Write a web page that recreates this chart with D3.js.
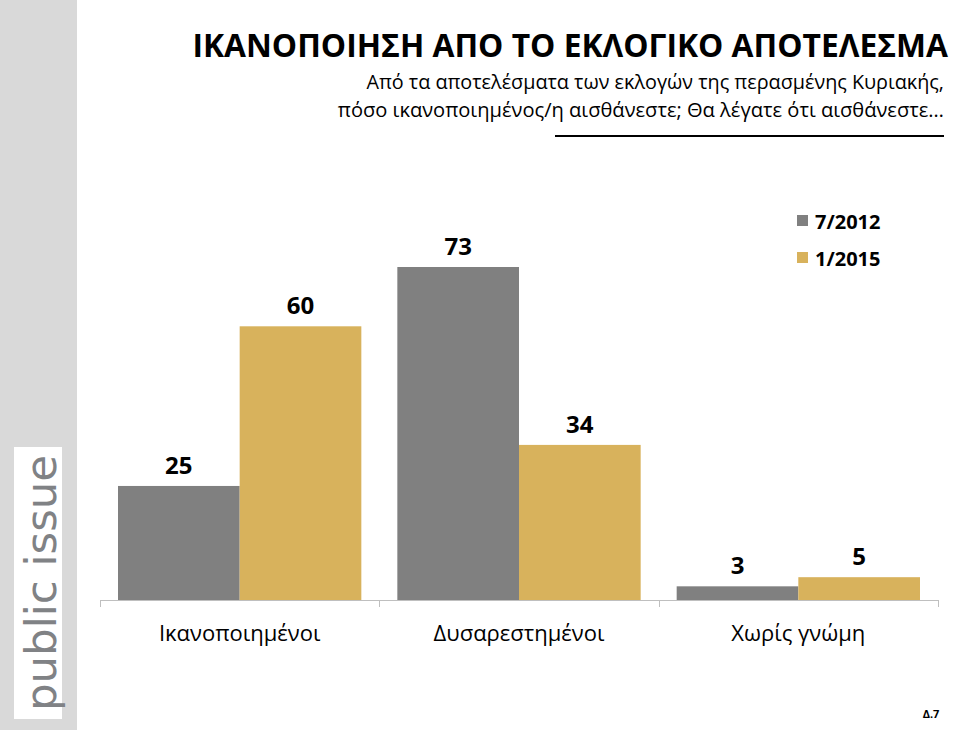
<!DOCTYPE html>
<html><head><meta charset="utf-8">
<script src="https://cdn.jsdelivr.net/npm/d3@7"></script>
<style>body{margin:0;background:#fff}svg{display:block}</style>
</head><body>
<script>
const categories = ["Ικανοποιημένοι", "Δυσαρεστημένοι", "Χωρίς γνώμη"];
const seriesNames = ["7/2012", "1/2015"];
const values2012 = [25, 73, 3];
const values2015 = [60, 34, 5];
const colors = ["#808080", "#d8b25c"];
const titleText = "ΙΚΑΝΟΠΟΙΗΣΗ ΑΠΟ ΤΟ ΕΚΛΟΓΙΚΟ ΑΠΟΤΕΛΕΣΜΑ";
const subtitleLines = ["Από τα αποτελέσματα των εκλογών της περασμένης Κυριακής,", "πόσο ικανοποιημένος/η αισθάνεστε; Θα λέγατε ότι αισθάνεστε…"];

const W = 960, H = 730;
const font = "'Open Sans',sans-serif";
const svg = d3.select("body").append("svg").attr("width", W).attr("height", H);

// sidebar
svg.append("rect").attr("x", 0).attr("y", 0).attr("width", 77).attr("height", H).attr("fill", "#d9d9d9");
svg.append("rect").attr("x", 14).attr("y", 447).attr("width", 48).attr("height", 272).attr("fill", "#fff");
svg.append("text").attr("transform", "translate(56,583) rotate(-90)")
  .attr("text-anchor", "middle").attr("font-family", "'DejaVu Sans',sans-serif").attr("font-size", 42)
  .attr("fill", "#808285").attr("textLength", 256).attr("lengthAdjust", "spacingAndGlyphs").text("public issue");

// title
svg.append("text").attr("x", 948).attr("y", 57).attr("text-anchor", "end")
  .attr("font-family", font).attr("font-weight", "bold").attr("font-size", 31.8).attr("fill", "#000").text(titleText);
const subSizes = [19.8, 20.1];
subtitleLines.forEach((t, i) => {
  svg.append("text").attr("x", 944).attr("y", 89 + i * 28).attr("text-anchor", "end")
    .attr("font-family", font).attr("font-size", subSizes[i]).attr("fill", "#000").text(t);
});
svg.append("line").attr("x1", 555).attr("x2", 944).attr("y1", 136).attr("y2", 136).attr("stroke", "#000").attr("stroke-width", 2);

// scales
const x0 = d3.scaleBand().domain(categories).range([100, 938]).paddingInner(0).paddingOuter(0);
const x1 = d3.scaleBand().domain(seriesNames).range([18, x0.bandwidth() - 18]).padding(0);
const y = d3.scaleLinear().domain([0, 73]).range([600, 267]);

const data = categories.map((c, i) => ({ cat: c, vals: [values2012[i], values2015[i]] }));
const g = svg.append("g");
data.forEach(d => {
  d.vals.forEach((v, j) => {
    const bx = x0(d.cat) + x1(seriesNames[j]);
    g.append("rect").attr("x", bx).attr("y", y(v)).attr("width", x1.bandwidth()).attr("height", y(0) - y(v)).attr("fill", colors[j]);
    g.append("text").attr("x", bx + x1.bandwidth() / 2).attr("y", y(v) - 12).attr("text-anchor", "middle")
      .attr("font-family", font).attr("font-weight", "bold").attr("font-size", 24).attr("fill", "#000").text(v);
  });
});

// axis
const axis = d3.axisBottom(x0).tickSize(0).tickFormat("");
const ag = svg.append("g").attr("transform", "translate(0,600)").call(axis);
ag.select(".domain").remove();
svg.append("line").attr("x1", 100).attr("x2", 938).attr("y1", 600.5).attr("y2", 600.5).attr("stroke", "#bfbfbf").attr("stroke-width", 1);
[0, 1, 2, 3].forEach(i => {
  const xx = i < 3 ? x0(categories[i]) : x0(categories[2]) + x0.bandwidth();
  svg.append("line").attr("x1", Math.round(xx) + 0.5).attr("x2", Math.round(xx) + 0.5).attr("y1", 600).attr("y2", 607).attr("stroke", "#bfbfbf");
});
categories.forEach(c => {
  svg.append("text").attr("x", x0(c) + x0.bandwidth() / 2).attr("y", 641).attr("text-anchor", "middle")
    .attr("font-family", font).attr("font-size", 22).attr("fill", "#000").text(c);
});

// legend
seriesNames.forEach((s, i) => {
  svg.append("rect").attr("x", 797).attr("y", 215 + i * 37).attr("width", 11).attr("height", 11).attr("fill", colors[i]);
  svg.append("text").attr("x", 815).attr("y", 229 + i * 37).attr("font-family", font).attr("font-weight", "bold")
    .attr("font-size", 20).attr("fill", "#000").text(s);
});

svg.append("text").attr("x", 931).attr("y", 718).attr("text-anchor", "middle").attr("font-family", font)
  .attr("font-weight", "bold").attr("font-size", 11).attr("fill", "#000").text("Δ.7");
</script>
</body></html>
